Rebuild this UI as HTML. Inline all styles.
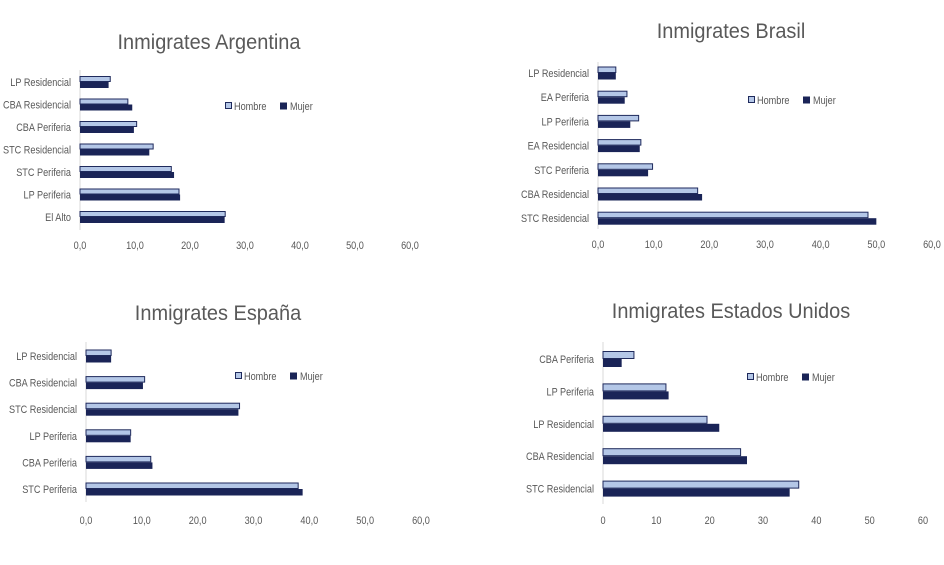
<!DOCTYPE html>
<html><head><meta charset="utf-8"><style>
html,body{margin:0;padding:0;background:#fff;}
svg{display:block;font-family:"Liberation Sans",sans-serif;}
</style></head><body>
<svg id="s" width="944" height="565" viewBox="0 0 944 565" xmlns="http://www.w3.org/2000/svg"></svg>
<script>
var charts=[
{title:"Inmigrates Argentina",tx:209,ty:49,x0:80,x60:410,y0:82,dy:22.5,bh:6,ty2:249,axT:70,axB:230,lx:225,ly:106,dec:true,
 d:[["LP Residencial",5.5,5.2],["CBA Residencial",8.7,9.5],["CBA Periferia",10.3,9.8],["STC Residencial",13.3,12.6],["STC Periferia",16.6,17.1],["LP Periferia",18.0,18.2],["El Alto",26.4,26.3]]},
{title:"Inmigrates Brasil",tx:731,ty:38,x0:598,x60:932,y0:73,dy:24.2,bh:6.5,ty2:248,axT:62,axB:229,lx:748,ly:100,dec:true,
 d:[["LP Residencial",3.2,3.2],["EA Periferia",5.2,4.8],["LP Periferia",7.3,5.8],["EA Residencial",7.7,7.5],["STC Periferia",9.8,9.0],["CBA Residencial",17.9,18.7],["STC Residencial",48.5,50.0]]},
{title:"Inmigrates España",tx:218,ty:320,x0:86,x60:421,y0:356,dy:26.6,bh:6.5,ty2:524,axT:342,axB:502,lx:235,ly:376,dec:true,
 d:[["LP Residencial",4.5,4.5],["CBA Residencial",10.5,10.2],["STC Residencial",27.5,27.3],["LP Periferia",8.0,8.0],["CBA Periferia",11.6,11.9],["STC Periferia",38.0,38.8]]},
{title:"Inmigrates Estados Unidos",tx:731,ty:318,x0:603,x60:923,y0:359,dy:32.4,bh:8,ty2:524,axT:342,axB:504,lx:747,ly:377,dec:false,
 d:[["CBA Periferia",5.8,3.5],["LP Periferia",11.8,12.3],["LP Residencial",19.5,21.8],["CBA Residencial",25.8,27.0],["STC Residencial",36.7,35.0]]}
];
var h="";
charts.forEach(function(c){
 var sc=(c.x60-c.x0)/60;
 h+='<text class="t" x="'+c.tx+'" y="'+c.ty+'" font-size="21" fill="#595959" text-anchor="middle">'+c.title+'</text>';
 h+='<line x1="'+c.x0+'" y1="'+c.axT+'" x2="'+c.x0+'" y2="'+c.axB+'" stroke="#d9d9d9" stroke-width="1"/>';
 for(var t=0;t<=60;t+=10){
  var lab=c.dec?(t+",0"):(""+t);
  h+='<text class="n" x="'+(c.x0+t*sc)+'" y="'+c.ty2+'" font-size="11" fill="#595959" text-anchor="middle">'+lab+'</text>';
 }
 c.d.forEach(function(r,i){
  var y=c.y0+i*c.dy;
  h+='<text class="n" x="'+(c.x0-9)+'" y="'+(y+4)+'" font-size="11" fill="#595959" text-anchor="end">'+r[0]+'</text>';
  h+='<rect x="'+c.x0+'" y="'+(y-c.bh+0.5)+'" width="'+(r[1]*sc)+'" height="'+(c.bh-1)+'" fill="#b4c7e7" stroke="#1f2a5c" stroke-width="1"/>';
  h+='<rect x="'+c.x0+'" y="'+(y)+'" width="'+(r[2]*sc)+'" height="'+c.bh+'" fill="#1a2457"/>';
 });
 h+='<rect x="'+(c.lx+0.5)+'" y="'+(c.ly-3.5)+'" width="6" height="6" fill="#b4c7e7" stroke="#1f2a5c"/>';
 h+='<text class="n" x="'+(c.lx+9)+'" y="'+(c.ly+4)+'" font-size="11" fill="#595959">Hombre</text>';
 h+='<rect x="'+(c.lx+55)+'" y="'+(c.ly-3.5)+'" width="7" height="7" fill="#1a2457"/>';
 h+='<text class="n" x="'+(c.lx+65)+'" y="'+(c.ly+4)+'" font-size="11" fill="#595959">Mujer</text>';
});
var s=document.getElementById("s");
s.innerHTML=h;
s.querySelectorAll("text").forEach(function(e){
 var f=e.getAttribute("class")=="t"?0.95:0.83;
 var L=e.getComputedTextLength();
 if(L>0){e.setAttribute("textLength",(L*f).toFixed(1));e.setAttribute("lengthAdjust","spacingAndGlyphs");}
});
</script>
</body></html>
